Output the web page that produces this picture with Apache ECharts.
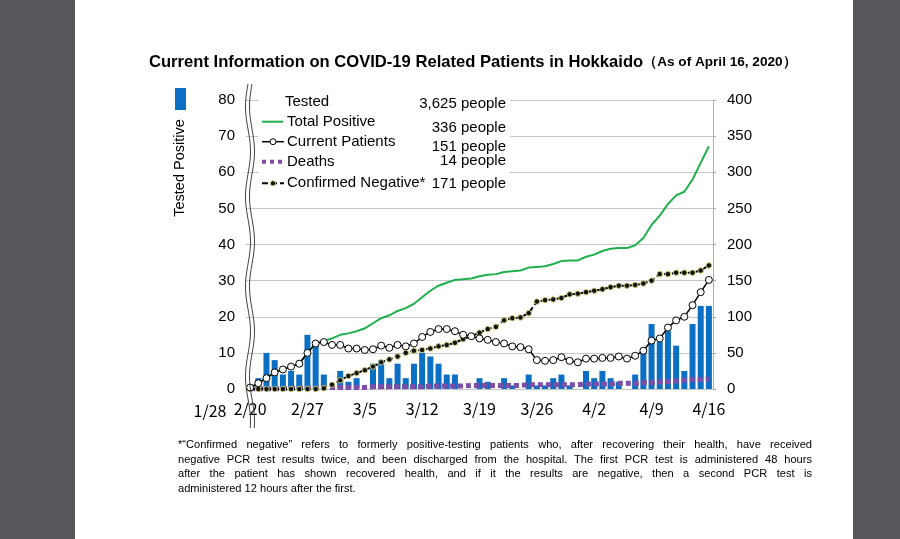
<!DOCTYPE html>
<html>
<head>
<meta charset="utf-8">
<script src="https://cdn.jsdelivr.net/npm/echarts@6/dist/echarts.min.js"></script>
<style>
  html, body { margin: 0; padding: 0; width: 900px; height: 539px; background: #55575a; overflow: hidden; }
  #page { position: absolute; left: 75px; top: 0; width: 778px; height: 539px; background: #fff; }
  #chart { position: absolute; left: 0; top: 0; width: 900px; height: 539px; }
</style>
</head>
<body>
<div id="page"></div>
<div id="chart"></div>
<script>
// x categories, 2/20 - 4/16
var dates = ["2/20","2/21","2/22","2/23","2/24","2/25","2/26","2/27","2/28","2/29",
  "3/1","3/2","3/3","3/4","3/5","3/6","3/7","3/8","3/9","3/10","3/11","3/12","3/13","3/14","3/15","3/16",
  "3/17","3/18","3/19","3/20","3/21","3/22","3/23","3/24","3/25","3/26","3/27","3/28","3/29","3/30","3/31",
  "4/1","4/2","4/3","4/4","4/5","4/6","4/7","4/8","4/9","4/10","4/11","4/12","4/13","4/14","4/15","4/16"];

// daily positives (left axis)
var testedPositive = [0,3,10,8,4,5,4,15,12,4, 0,5,2,3,0,7,8,3,7,3, 7,10,9,7,4,4,0,0,3,2,
  0,3,1,0,4,1,1,3,4,1, 0,5,3,5,3,2,0,4,10,18, 13,16,12,5,18,23,23];

// right axis series
var totalPositive = [2,8,15,23,27,31,35,50,63,67, 70,75,77,80,84,91,98,102,108,112,
  118,127,136,143,147,151,152,153,156,158, 159,162,163,164,168,169,170,173,177,178,
  178,183,186,191,194,195,195,199,209,227, 240,256,268,273,290,313,336];
var currentPatients = [2,8,15,23,27,31,35,50,63,65, 61,61,56,56,54,55,60,57,61,59,
  63,72,79,83,83,80,75,73,70,68, 65,63,59,58,55,40,39,40,44,39,
  37,42,42,43,43,45,42,46,53,67, 70,85,95,100,116,134,151];
var deaths = [0,0,0,0,0,1,1,1,1,2, 2,2,2,2,2,3,3,3,3,3, 3,3,4,4,4,4,4,5,5,5,
  5,5,5,5,6,6,6,6,6,6, 6,7,7,7,7,8,8,8,9,9, 10,10,11,12,13,13,14];
var confirmedNegative = [0,0,0,0,0,0,0,0,0,1, 6,12,18,22,26,31,37,41,45,50,
  53,54,56,59,61,64,69,73,78,83, 86,95,98,99,105,121,123,124,126,131,
  132,134,136,138,141,143,143,144,146,150, 159,159,161,161,161,164,171];

// legend figures
var legendNames = ["Tested", "Total Positive", "Current Patients", "Deaths", "Confirmed Negative*"];
var legendCounts = ["3,625 people", "336 people", "151 people", "14 people", "171 people"];

var footnote = [
  "*\u201cConfirmed negative\u201d refers to formerly positive-testing patients who, after recovering their health, have received",
  "negative PCR test results twice, and been discharged from the hospital. The first PCR test is administered 48 hours",
  "after the patient has shown recovered health, and if it the results are negative, then a second PCR test is",
  "administered 12 hours after the first."
];

var FONT = "Liberation Sans, Arial, sans-serif";
var JFONT = "Noto Sans CJK JP, sans-serif";
var BLUE = "#0b6fc4";
var GREEN = "#1fb04e";
var PURPLE = "#7b4fa8";

var nameY = [101.7, 121.7, 141.7, 161.7, 183.3];
var countY = [104, 128.3, 146.7, 160.7, 184];

function wave(x0) {
  // axis break, two wavy strokes
  var pts = [];
  for (var y = 84; y <= 428; y += 4) {
    pts.push([x0 - 2.5 * Math.sin((y - 84) / 90 * 2 * Math.PI), y]);
  }
  return pts;
}

function txt(x, y, s, size, opts) {
  var style = {text: s, font: size + "px " + FONT, fill: "#000", textVerticalAlign: "middle"};
  for (var k in (opts || {})) style[k] = opts[k];
  return {type: "text", x: x, y: y, z: 20, style: style};
}

var graphics = [
  // white box behind the legend
  {type: "rect", shape: {x: 258, y: 88, width: 252, height: 108}, style: {fill: "#fff"}, z: 3},
  {type: "rect", shape: {x: 175, y: 88, width: 11, height: 22}, style: {fill: BLUE}},
  {type: "text", x: 180, y: 168, rotation: Math.PI / 2, z: 20,
    style: {text: "Tested Positive", font: "14.5px " + FONT, fill: "#000", textAlign: "center", textVerticalAlign: "middle"}},
  {type: "text", x: 210, y: 411, z: 20,
    style: {text: "1/28", font: "16px " + JFONT, fill: "#000", textAlign: "center", textVerticalAlign: "middle"}},
  {type: "polyline", shape: {points: wave(248)}, style: {stroke: "#444", lineWidth: 1, fill: null}, z: 30},
  {type: "polyline", shape: {points: wave(252)}, style: {stroke: "#444", lineWidth: 1, fill: null}, z: 30},
  // legend keys
  {type: "line", shape: {x1: 262, y1: nameY[1], x2: 283, y2: nameY[1]}, style: {stroke: GREEN, lineWidth: 2}, z: 20},
  {type: "line", shape: {x1: 262, y1: nameY[2], x2: 284, y2: nameY[2]}, style: {stroke: "#000", lineWidth: 1.5}, z: 20},
  {type: "circle", shape: {cx: 273, cy: nameY[2], r: 3}, style: {fill: "#fff", stroke: "#000", lineWidth: 1}, z: 21},
  {type: "line", shape: {x1: 262, y1: nameY[3], x2: 284, y2: nameY[3]},
    style: {stroke: PURPLE, lineWidth: 4, lineDash: [4, 4]}, z: 20},
  {type: "line", shape: {x1: 262, y1: nameY[4], x2: 284, y2: nameY[4]},
    style: {stroke: "#000", lineWidth: 2, lineDash: [6, 3]}, z: 20},
  {type: "circle", shape: {cx: 273, cy: nameY[4], r: 2.6}, style: {fill: "#111", stroke: "#cfcc78", lineWidth: 1}, z: 21}
];
legendNames.forEach(function (n, i) {
  graphics.push(txt(i === 0 ? 285 : 287, nameY[i], n, 15));
});
legendCounts.forEach(function (c, i) {
  graphics.push(txt(506, countY[i], c, 15, {textAlign: "right"}));
});

// footnote, justified between x=178 and x=812
var measure = document.createElement("canvas").getContext("2d");
var noteFont = "11.1px " + FONT;
measure.font = noteFont;
footnote.forEach(function (line, i) {
  var y = 445 + i * 14.7;
  var words = line.split(" ");
  if (i === footnote.length - 1) {
    graphics.push(txt(178, y, line, 11.1));
    return;
  }
  var total = 0;
  words.forEach(function (w) { total += measure.measureText(w).width; });
  var gap = (812 - 178 - total) / (words.length - 1);
  var x = 178;
  words.forEach(function (w) {
    graphics.push(txt(x, y, w, 11.1));
    x += measure.measureText(w).width + gap;
  });
});

var chart = echarts.init(document.getElementById("chart"));
chart.setOption({
  animation: false,
  title: {
    left: 144, top: 49,
    text: "{a|Current Information on COVID-19 Related Patients in Hokkaido}{b|\uff08As of April 16, 2020\uff09}",
    textStyle: {
      rich: {
        a: {fontSize: 16.6, fontWeight: "bold", fontFamily: FONT, color: "#000"},
        b: {fontSize: 13.6, fontWeight: "bold", fontFamily: FONT, color: "#000"}
      }
    }
  },
  grid: {left: 246, right: 187, top: 100, bottom: 150},
  xAxis: {
    type: "category", data: dates, boundaryGap: true,
    axisLine: {show: true, lineStyle: {color: "#c4c4c4"}},
    axisTick: {show: false},
    axisLabel: {interval: 6, fontSize: 16, fontFamily: JFONT, color: "#000", margin: 12}
  },
  yAxis: [
    {
      type: "value", min: 0, max: 80, interval: 10,
      axisLine: {show: false}, axisTick: {show: false},
      axisLabel: {fontSize: 15, fontFamily: FONT, color: "#000", margin: 11},
      splitLine: {lineStyle: {color: "#c8c8c8"}}
    },
    {
      type: "value", min: 0, max: 400, interval: 50, position: "right",
      axisLine: {show: true, lineStyle: {color: "#b0b0b0"}},
      axisTick: {show: true, length: 3, lineStyle: {color: "#b0b0b0"}},
      axisLabel: {fontSize: 15, fontFamily: FONT, color: "#000", margin: 14},
      splitLine: {show: false}
    }
  ],
  series: [
    {
      name: "Tested Positive", type: "bar", yAxisIndex: 0, data: testedPositive,
      barWidth: 6, itemStyle: {color: BLUE}, z: 1
    },
    {
      name: "Total Positive", type: "line", yAxisIndex: 1, data: totalPositive,
      symbol: "none", lineStyle: {color: GREEN, width: 2}, itemStyle: {color: GREEN}, z: 4
    },
    {
      name: "Deaths", type: "line", yAxisIndex: 1, data: deaths,
      symbol: "none", lineStyle: {color: PURPLE, width: 5, type: [5, 3]},
      itemStyle: {color: PURPLE}, z: 4
    },
    {
      name: "Confirmed Negative*", type: "line", yAxisIndex: 1, data: confirmedNegative,
      symbol: "circle", symbolSize: 5.5, showAllSymbol: true,
      itemStyle: {color: "#111", borderColor: "#cfcc78", borderWidth: 1},
      lineStyle: {color: "#000", width: 2, type: [5, 3]}, z: 5
    },
    {
      name: "Current Patients", type: "line", yAxisIndex: 1, data: currentPatients,
      symbol: "circle", symbolSize: 7, showAllSymbol: true,
      itemStyle: {color: "#fff", borderColor: "#000", borderWidth: 1},
      lineStyle: {color: "#000", width: 1.5}, z: 6
    }
  ],
  graphic: graphics
});
</script>
</body>
</html>
